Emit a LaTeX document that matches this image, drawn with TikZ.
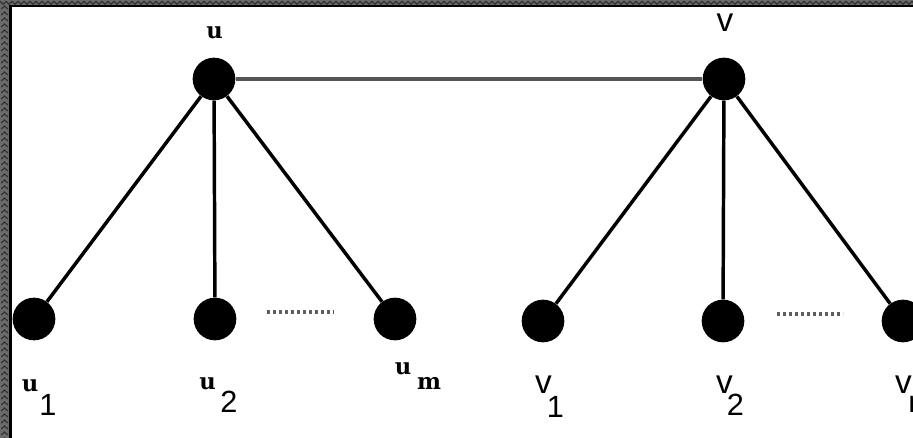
\documentclass[tikz,border=0pt]{standalone}
\usepackage{fontspec}
\setmainfont{Liberation Serif}
\newfontfamily\lsans{Liberation Sans}
\newfontfamily\dserif{DejaVu Serif}
\definecolor{bordergray}{HTML}{6B6B6B}
\definecolor{zig}{HTML}{333333}
\definecolor{bridgegray}{HTML}{555555}
\definecolor{dotgray}{HTML}{5E5E5E}
\begin{document}
\begin{tikzpicture}[x=0.75pt,y=-0.75pt,
  vtx/.style={circle,fill=black,inner sep=0pt,minimum size=32pt},
  edge/.style={line width=2.6pt,black},
  bridge/.style={line width=2.8pt,bridgegray},
  dots/.style={line width=2.6pt,dotgray,dash pattern=on 2.6pt off 1.9pt},
  ulab/.style={inner sep=0pt,font=\fontsize{17}{19}\dserif\bfseries},
  slab/.style={inner sep=0pt,font=\fontsize{23}{25}\lsans},
  vlab/.style={inner sep=0pt,font=\fontsize{25}{27}\lsans}]
\useasboundingbox (0,0) rectangle (913,438);
\clip (0,0) rectangle (913,438);
\fill[white] (0,0) rectangle (913,438);
% border
\fill[bordergray] (0,0) rectangle (913,5.5);
\fill[bordergray] (0,0) rectangle (9,438);
\foreach \i in {0,6,...,912} \draw[zig,line width=0.9pt] (\i,1.2) -- (\i+3,4.2) -- (\i+6,1.2);
\foreach \j in {6,12,...,438} \draw[zig,line width=0.9pt] (1.2,\j+3) -- (4.5,\j) -- (7.8,\j+3);
\fill[black] (9,5.5) rectangle (913,7.5);
\fill[black] (9,5.5) rectangle (12,438);
% vertices
\node[vtx] (u) at (214,79) {};
\node[vtx] (v) at (724,79) {};
\node[vtx] (u1) at (34,319) {};
\node[vtx] (u2) at (215,319) {};
\node[vtx] (um) at (395,319) {};
\node[vtx] (v1) at (543,321) {};
\node[vtx] (v2) at (723,321) {};
\node[vtx] (vn) at (903,321) {};
% edges
\draw[bridge] (u) -- (v);
\foreach \c in {u1,u2,um} \draw[edge] (u) -- (\c);
\foreach \c in {v1,v2,vn} \draw[edge] (v) -- (\c);
% dotted gaps
\coordinate (da) at (267,312);
\coordinate (db) at (334,312);
\coordinate (dc) at (777,314);
\coordinate (dd) at (843,314);
\draw[dots] (da) -- (db);
\draw[dots] (dc) -- (dd);
% labels
\node[ulab] (lu) at (214.5,33) {u};
\node[vlab] (lv) at (725,23) {v};
\node[ulab] (lu1) at (30,386) {u};
\node[slab] (lu1s) at (48,405) {1};
\node[ulab] (lu2) at (207.5,384) {u};
\node[slab] (lu2s) at (229,402) {2};
\node[ulab] (lum) at (403,368.5) {u};
\node[ulab] (lums) at (429,383.5) {m};
\node[vlab] (lv1) at (543.5,385) {v};
\node[slab] (lv1s) at (555.5,407) {1};
\node[vlab] (lv2) at (724.5,385) {v};
\node[slab] (lv2s) at (735.5,405) {2};
\node[vlab] (lvn) at (903.5,385) {v};
\node[slab,anchor=west] (lvns) at (908,404) {n};
\end{tikzpicture}
\end{document}
